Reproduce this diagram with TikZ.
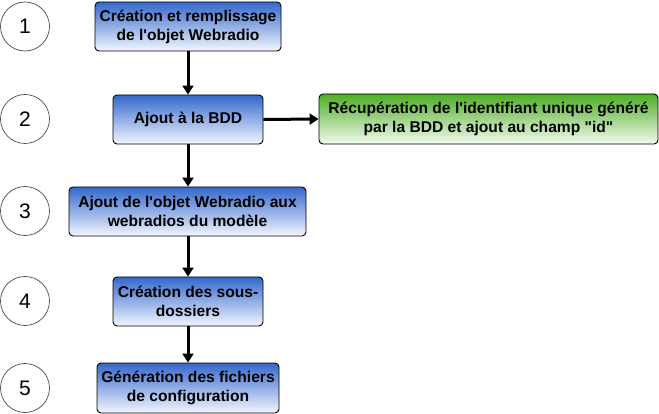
\documentclass[tikz,border=0pt]{standalone}
\usepackage{fontspec}
\setmainfont{Liberation Sans}[Ligatures=TeXOff]
\usetikzlibrary{arrows.meta}
\definecolor{bluetop}{HTML}{3468CC}
\definecolor{bluebot}{HTML}{F2F6FF}
\definecolor{greentop}{HTML}{4EAE26}
\definecolor{greenbot}{HTML}{F2FAEE}
\tikzset{
  stepbox/.style={draw=black, line width=0.9pt, rounded corners=4pt, top color=bluetop, bottom color=bluebot, font=\bfseries\fontsize{15.6}{19}\selectfont, align=center, inner sep=0pt},
  greenbox/.style={stepbox, top color=greentop, bottom color=greenbot},
  numcircle/.style={draw=black!70, fill=white, line width=0.7pt, circle, minimum size=49pt, inner sep=0pt, font=\fontsize{21}{24}\selectfont},
  flow/.style={line width=3pt, -{Triangle[length=9pt,width=11pt]}}
}
\begin{document}
\begin{tikzpicture}[x=1pt,y=-1pt]
\useasboundingbox[fill=white] (0,0) rectangle (659,414);
\node[numcircle] (c1) at (25,26.5) {1};
\node[numcircle] (c2) at (25,119) {2};
\node[numcircle] (c3) at (25,211) {3};
\node[numcircle] (c4) at (25,301) {4};
\node[numcircle] (c5) at (25,388) {5};
\node[stepbox, minimum width=186pt, minimum height=49pt] (b1) at (188,26.5) {Création et remplissage\\de l'objet Webradio};
\node[stepbox, minimum width=150pt, minimum height=49pt] (b2) at (188,119.5) {Ajout à la BDD};
\node[greenbox, minimum width=339pt, minimum height=50pt] (g) at (488.5,119) {Récupération de l'identifiant unique généré\\par la BDD et ajout au champ "id"};
\node[stepbox, minimum width=237pt, minimum height=49pt] (b3) at (187.5,211.5) {Ajout de l'objet Webradio aux\\webradios du modèle};
\node[stepbox, minimum width=150pt, minimum height=49pt] (b4) at (188,301.5) {Création des sous-\\dossiers};
\node[stepbox, minimum width=182pt, minimum height=50pt] (b5) at (188,388) {Génération des fichiers\\de configuration};
\draw[flow] (b1.south) -- (b2.north);
\draw[flow] (b2.east) -- (g.west);
\draw[flow] (b2.south) -- (b2.south |- b3.north);
\draw[flow] (b3.south -| b4.north) -- (b4.north);
\draw[flow] (b4.south) -- (b5.north);
\end{tikzpicture}
\end{document}
